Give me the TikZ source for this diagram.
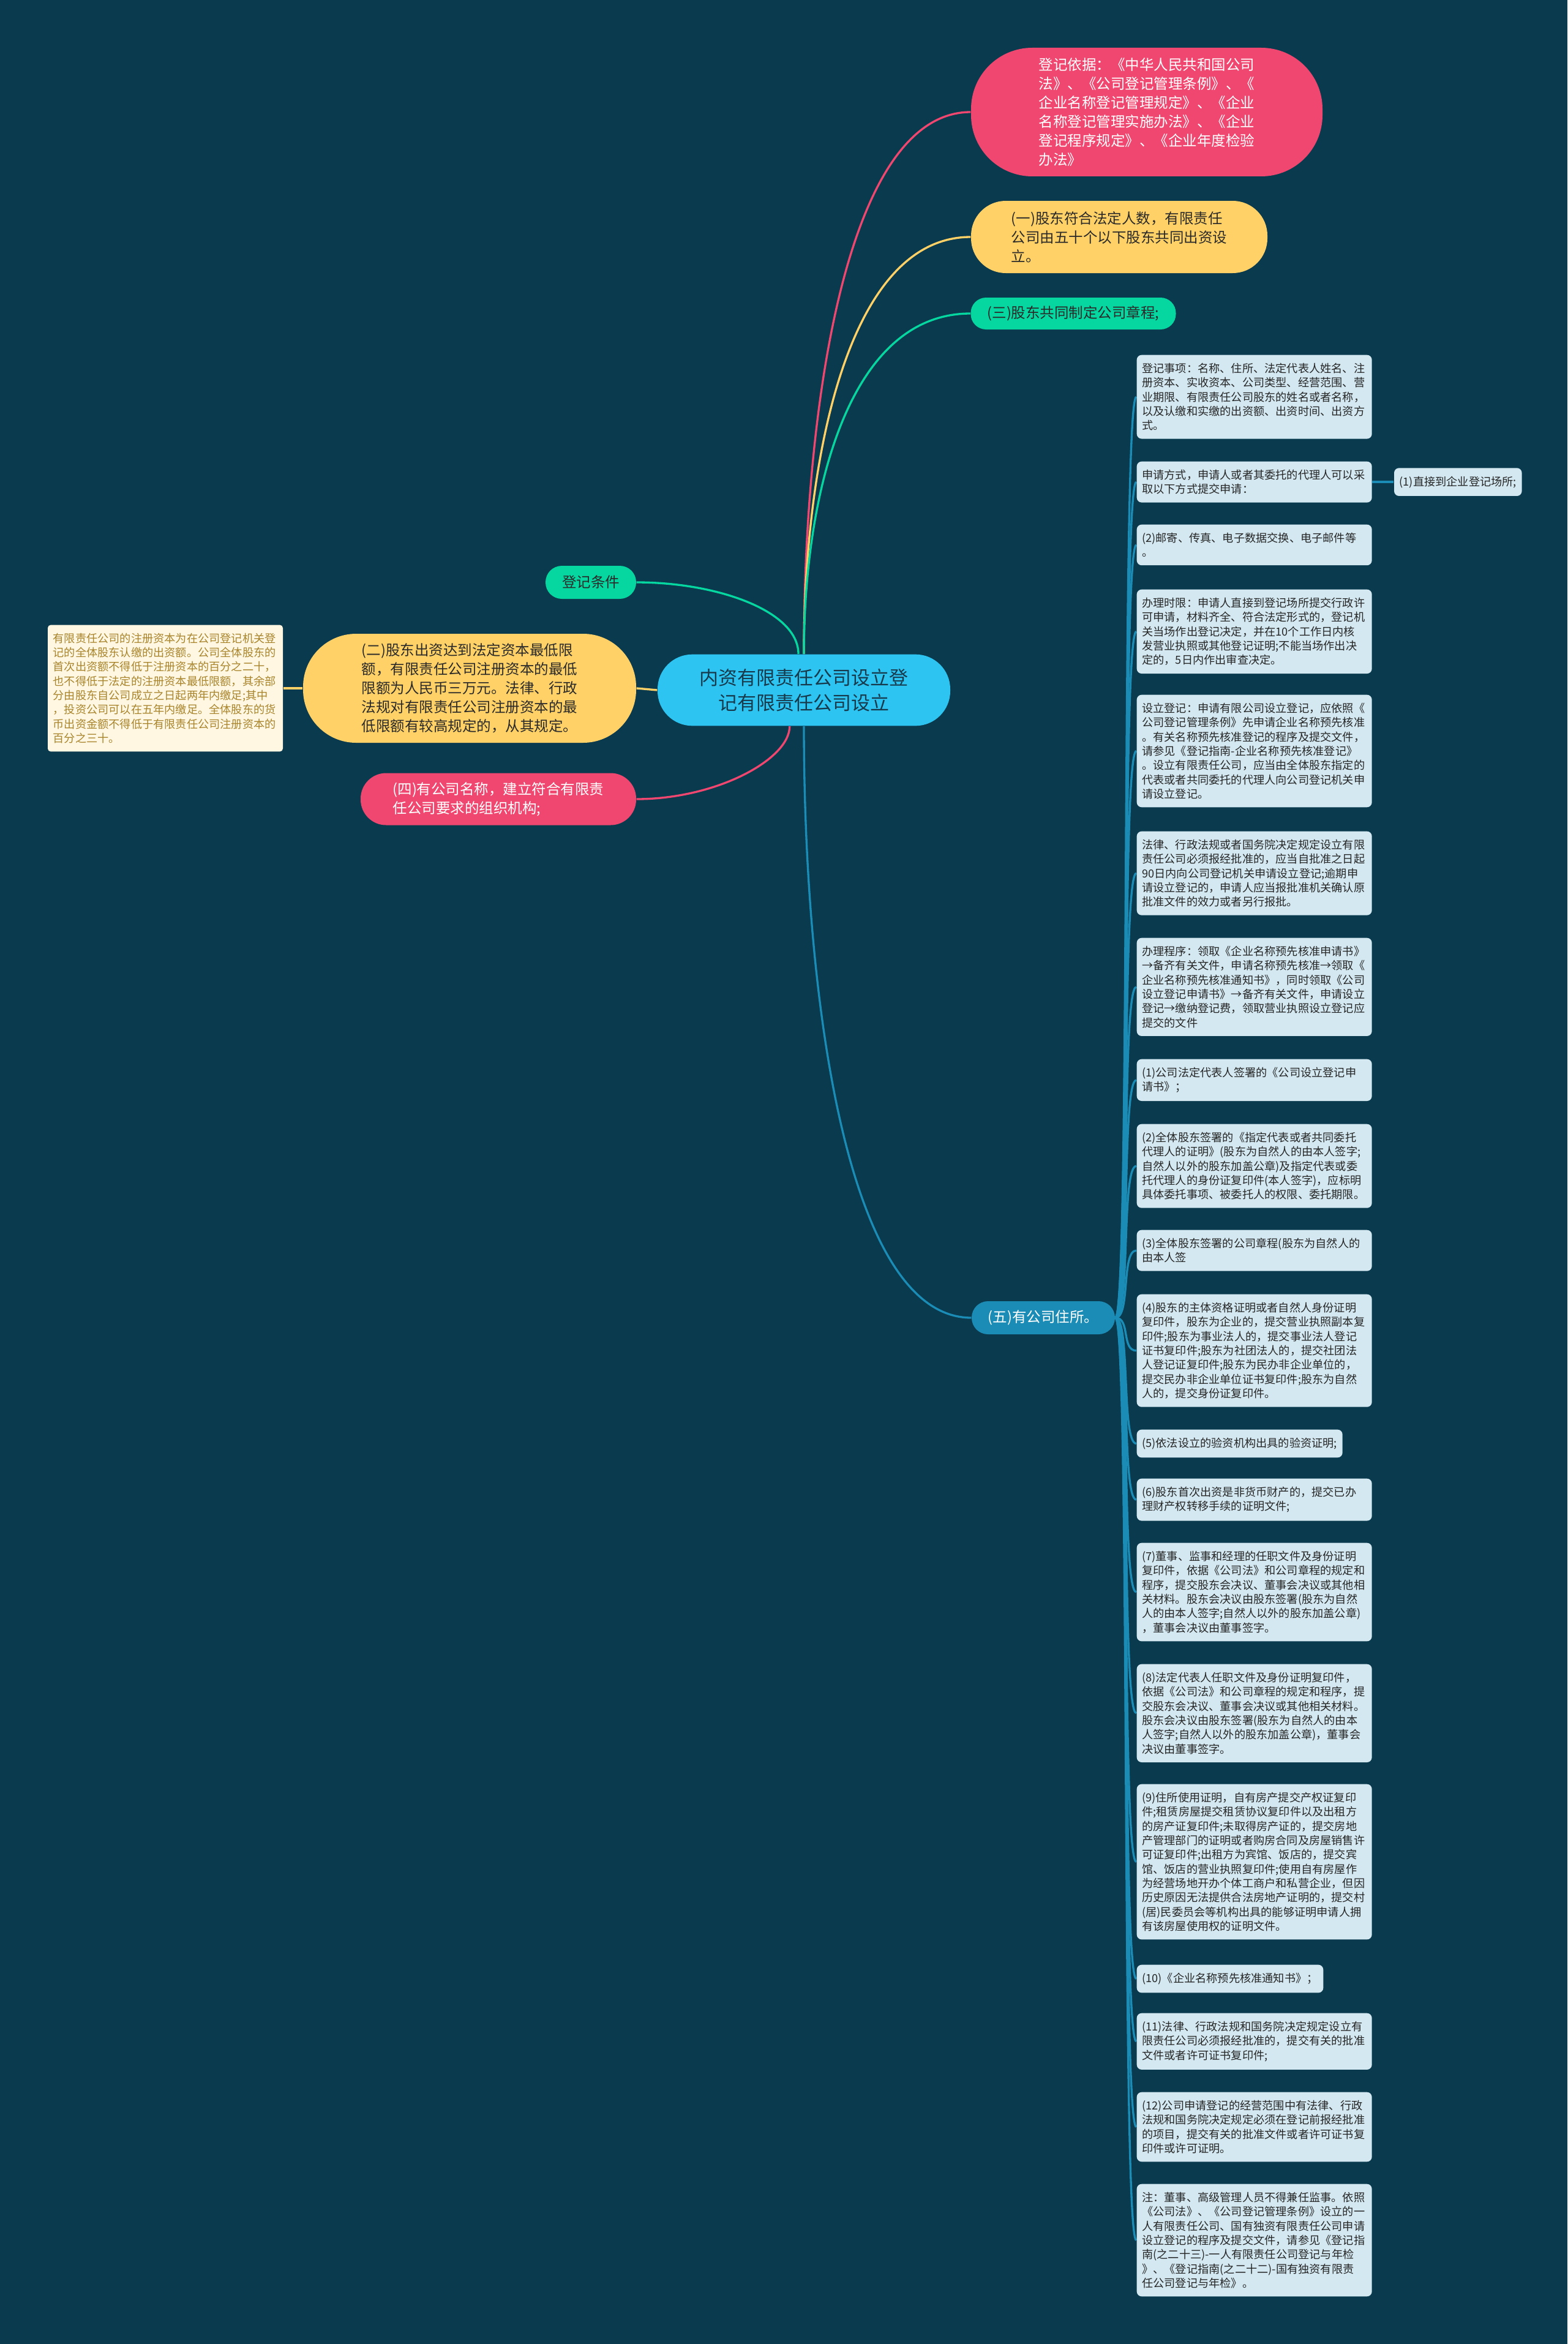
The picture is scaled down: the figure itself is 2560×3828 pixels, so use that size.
\documentclass[tikz,border=0pt]{standalone}
\usepackage{fontspec}
\setmainfont{Noto Sans CJK SC}
\usetikzlibrary{calc}
\definecolor{bgc}{HTML}{0A3A4E}
\definecolor{redc}{HTML}{EF476F}
\definecolor{yelc}{HTML}{FFD166}
\definecolor{grnc}{HTML}{06D6A0}
\definecolor{cenc}{HTML}{2EC4F1}
\definecolor{wuc}{HTML}{1A8CB6}
\definecolor{boxc}{HTML}{D3E8F1}
\definecolor{boxt}{HTML}{262626}
\definecolor{creamc}{HTML}{FFF7E1}
\definecolor{creamt}{HTML}{A8842C}
\definecolor{darkt}{HTML}{2A2A2A}
\definecolor{cent}{HTML}{173A4C}
\pgfdeclarelayer{bottom}
\pgfdeclarelayer{background}
\pgfsetlayers{bottom,background,main}
\begin{document}
\begin{tikzpicture}[x=0.3pt,y=-0.3pt,
  big/.style={inner sep=0pt, align=left, font=\fontsize{7.05pt}{9.3pt}\selectfont},
  sbox/.style={fill=boxc, text=boxt, rounded corners=2.4pt, inner xsep=2.6pt, inner ysep=4pt, align=left, anchor=north west, font=\fontsize{5.46pt}{7pt}\selectfont},
  wbox/.style={sbox, text width=110pt},
  link/.style={line width=1pt},
]
\begin{pgfonlayer}{bottom}
\fill[bgc] (0,0) rectangle (2560,3828);
\end{pgfonlayer}
\useasboundingbox (0,0) rectangle (2560,3828);

% main nodes
\node[big, fill=redc, text=white, minimum width=172.2pt, minimum height=63pt, rounded corners=30pt] (red) at (1873,183)
 {登记依据：《中华人民共和国公司\\法》、《公司登记管理条例》、《\\企业名称登记管理规定》、《企业\\名称登记管理实施办法》、《企业\\登记程序规定》、《企业年度检验\\办法》};
\node[big, fill=yelc, text=darkt, minimum width=145.2pt, minimum height=35.4pt, rounded corners=17pt] (yi) at (1828,387)
 {(一)股东符合法定人数，有限责任\\公司由五十个以下股东共同出资设\\立。};
\node[big, fill=grnc, text=darkt, minimum width=100.5pt, minimum height=15.6pt, rounded corners=7.5pt] (san) at (1753,512)
 {(三)股东共同制定公司章程;};
\node[big, fill=grnc, text=darkt, minimum width=44.4pt, minimum height=16.2pt, rounded corners=8pt] (tj) at (965,951)
 {登记条件};
\node[fill=cenc, text=cent, inner sep=0pt, align=center, font=\fontsize{9.3pt}{12.2pt}\selectfont, minimum width=143.4pt, minimum height=35pt, rounded corners=17pt] (c) at (1313,1127)
 {内资有限责任公司设立登\\记有限责任公司设立};
\node[big, fill=yelc, text=darkt, minimum width=163.2pt, minimum height=53.4pt, rounded corners=26pt] (er) at (767,1124)
 {(二)股东出资达到法定资本最低限\\额，有限责任公司注册资本的最低\\限额为人民币三万元。法律、行政\\法规对有限责任公司注册资本的最\\低限额有较高规定的，从其规定。};
\node[big, fill=redc, text=white, minimum width=135pt, minimum height=25.5pt, rounded corners=12.5pt] (si) at (814,1305)
 {(四)有公司名称，建立符合有限责\\任公司要求的组织机构;};
\node[fill=creamc, text=creamt, rounded corners=1.5pt, text width=110pt, inner xsep=2.6pt, inner ysep=4pt, align=left, font=\fontsize{5.46pt}{7pt}\selectfont] (cr) at (270,1124)
 {有限责任公司的注册资本为在公司登记机关登\\记的全体股东认缴的出资额。公司全体股东的\\首次出资额不得低于注册资本的百分之二十，\\也不得低于法定的注册资本最低限额，其余部\\分由股东自公司成立之日起两年内缴足;其中\\，投资公司可以在五年内缴足。全体股东的货\\币出资金额不得低于有限责任公司注册资本的\\百分之三十。};
\node[big, fill=wuc, text=white, minimum width=70.2pt, minimum height=16.2pt, rounded corners=8pt] (wu) at (1704,2152)
 {(五)有公司住所。};

% right column
\node[wbox] (b1) at (1856,579) {登记事项：名称、住所、法定代表人姓名、注\\册资本、实收资本、公司类型、经营范围、营\\业期限、有限责任公司股东的姓名或者名称，\\以及认缴和实缴的出资额、出资时间、出资方\\式。};
\node[wbox] (b2) at (1856,753) {申请方式，申请人或者其委托的代理人可以采\\取以下方式提交申请：};
\node[wbox] (b3) at (1856,856) {(2)邮寄、传真、电子数据交换、电子邮件等\\。};
\node[wbox] (b4) at (1856,962) {办理时限：申请人直接到登记场所提交行政许\\可申请，材料齐全、符合法定形式的，登记机\\关当场作出登记决定，并在10个工作日内核\\发营业执照或其他登记证明;不能当场作出决\\定的，5日内作出审查决定。};
\node[wbox] (b5) at (1856,1134) {设立登记：申请有限公司设立登记，应依照《\\公司登记管理条例》先申请企业名称预先核准\\。有关名称预先核准登记的程序及提交文件，\\请参见《登记指南-企业名称预先核准登记》\\。设立有限责任公司，应当由全体股东指定的\\代表或者共同委托的代理人向公司登记机关申\\请设立登记。};
\node[wbox] (b6) at (1856,1357) {法律、行政法规或者国务院决定规定设立有限\\责任公司必须报经批准的，应当自批准之日起\\90日内向公司登记机关申请设立登记;逾期申\\请设立登记的，申请人应当报批准机关确认原\\批准文件的效力或者另行报批。};
\node[wbox] (b7) at (1856,1531) {办理程序：领取《企业名称预先核准申请书》\\→备齐有关文件，申请名称预先核准→领取《\\企业名称预先核准通知书》，同时领取《公司\\设立登记申请书》→备齐有关文件，申请设立\\登记→缴纳登记费，领取营业执照设立登记应\\提交的文件};
\node[wbox] (b8) at (1856,1729) {(1)公司法定代表人签署的《公司设立登记申\\请书》；};
\node[wbox] (b9) at (1856,1835) {(2)全体股东签署的《指定代表或者共同委托\\代理人的证明》(股东为自然人的由本人签字;\\自然人以外的股东加盖公章)及指定代表或委\\托代理人的身份证复印件(本人签字)，应标明\\具体委托事项、被委托人的权限、委托期限。};
\node[wbox] (b10) at (1856,2008) {(3)全体股东签署的公司章程(股东为自然人的\\由本人签};
\node[wbox] (b11) at (1856,2113) {(4)股东的主体资格证明或者自然人身份证明\\复印件，股东为企业的，提交营业执照副本复\\印件;股东为事业法人的，提交事业法人登记\\证书复印件;股东为社团法人的，提交社团法\\人登记证复印件;股东为民办非企业单位的，\\提交民办非企业单位证书复印件;股东为自然\\人的，提交身份证复印件。};
\node[sbox] (b12) at (1856,2334) {(5)依法设立的验资机构出具的验资证明;};
\node[wbox] (b13) at (1856,2414) {(6)股东首次出资是非货币财产的，提交已办\\理财产权转移手续的证明文件;};
\node[wbox] (b14) at (1856,2519) {(7)董事、监事和经理的任职文件及身份证明\\复印件，依据《公司法》和公司章程的规定和\\程序，提交股东会决议、董事会决议或其他相\\关材料。股东会决议由股东签署(股东为自然\\人的由本人签字;自然人以外的股东加盖公章)\\，董事会决议由董事签字。};
\node[wbox] (b15) at (1856,2717) {(8)法定代表人任职文件及身份证明复印件，\\依据《公司法》和公司章程的规定和程序，提\\交股东会决议、董事会决议或其他相关材料。\\股东会决议由股东签署(股东为自然人的由本\\人签字;自然人以外的股东加盖公章)，董事会\\决议由董事签字。};
\node[wbox] (b16) at (1856,2913) {(9)住所使用证明，自有房产提交产权证复印\\件;租赁房屋提交租赁协议复印件以及出租方\\的房产证复印件;未取得房产证的，提交房地\\产管理部门的证明或者购房合同及房屋销售许\\可证复印件;出租方为宾馆、饭店的，提交宾\\馆、饭店的营业执照复印件;使用自有房屋作\\为经营场地开办个体工商户和私营企业，但因\\历史原因无法提供合法房地产证明的，提交村\\(居)民委员会等机构出具的能够证明申请人拥\\有该房屋使用权的证明文件。};
\node[sbox] (b17) at (1856,3208) {(10)《企业名称预先核准通知书》；};
\node[wbox] (b18) at (1856,3287) {(11)法律、行政法规和国务院决定规定设立有\\限责任公司必须报经批准的，提交有关的批准\\文件或者许可证书复印件;};
\node[wbox] (b19) at (1856,3416) {(12)公司申请登记的经营范围中有法律、行政\\法规和国务院决定规定必须在登记前报经批准\\的项目，提交有关的批准文件或者许可证书复\\印件或许可证明。};
\node[wbox] (b20) at (1856,3566) {注：董事、高级管理人员不得兼任监事。依照\\《公司法》、《公司登记管理条例》设立的一\\人有限责任公司、国有独资有限责任公司申请\\设立登记的程序及提交文件，请参见《登记指\\南(之二十三)-一人有限责任公司登记与年检\\》、《登记指南(之二十二)-国有独资有限责\\任公司登记与年检》。};
\node[sbox, anchor=west] (zj) at ([xshift=10.5pt]b2.east) {(1)直接到企业登记场所;};

% connectors
\begin{pgfonlayer}{background}
\draw[link, redc] (c.north) .. controls (1313,670) and (1381,183) .. (red.west);
\draw[link, yelc] (c.north) .. controls (1313,762) and (1381,387) .. (yi.west);
\draw[link, grnc] (c.north) .. controls (1313,818) and (1381,512) .. (san.west);
\draw[link, grnc] (tj.east) .. controls (1172,951) and (1304,998) .. ([xshift=-2.7pt]c.north);
\draw[link, yelc] (er.east) -- (c.west);
\draw[link, redc] (si.east) .. controls (1170,1305) and (1290,1240) .. ([xshift=-7pt]c.south);
\draw[link, wuc] (c.south) .. controls (1313,1621) and (1381,2152) .. (wu.west);
\draw[link, yelc] (er.west) -- (cr.east);
\foreach \i in {1,...,20}
  \draw[link, wuc] (wu.east) .. controls +(25,0) and +(-25,0) .. (b\i.west);
\draw[link, wuc] (b2.east) -- (zj.west);
\end{pgfonlayer}
\end{tikzpicture}
\end{document}
